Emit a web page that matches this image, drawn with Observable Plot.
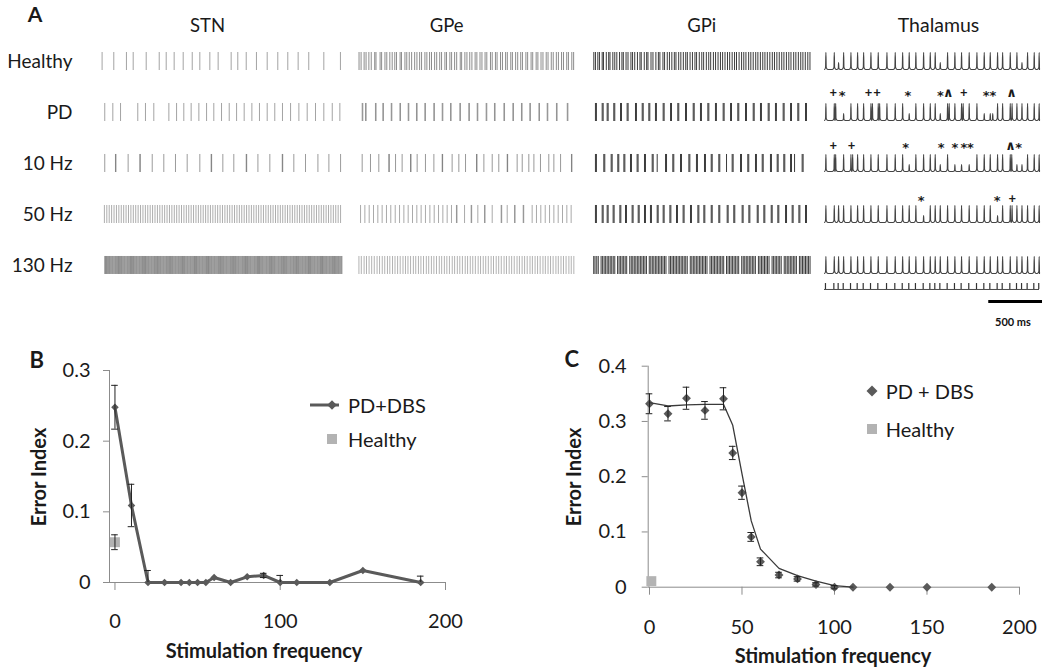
<!DOCTYPE html>
<html><head><meta charset="utf-8">
<script src="https://cdn.jsdelivr.net/npm/d3@7"></script>
<script src="https://cdn.jsdelivr.net/npm/@observablehq/plot@0.6"></script>
<style>
body{margin:0;background:#fff;}
#fig{position:relative;width:1050px;height:668px;overflow:hidden;font-family:Lato,"Open Sans",sans-serif;color:#1a1a1a;}
</style></head><body><div id="fig"></div>
<script>
// ---------------- Panel A: spike rasters (times in ms, 2 s window) ----------------
const rowNames = ["Healthy", "PD", "10 Hz", "50 Hz", "130 Hz"];

const stnHealthy = [5,102,207,263,371,479,537,603,678,753,816,899,968,1076,1131,1201,1286,1375,1463,1546,1632,1720,1845,1983];
const stnPD = [27,94,158,301,365,434,559,623,683,744,808,872,932,996,1060,1121,1184,1248,1311,1375,1438,1502,1569,1638,1707,1776,1845,1915,1978];
const stn10 = [27,116,120,221,318,322,421,517,614,711,816,910,914,1007,1098,1201,1205,1298,1397,1500,1504,1596,1693,1796,1887,1984];
const stn50 = [24,44,64,84,104,124,144,164,184,204,224,244,264,284,304,324,344,364,384,404,424,444,464,484,504,524,544,564,584,604,624,644,664,684,704,724,744,764,784,804,824,844,864,884,904,924,944,964,984,1004,1024,1044,1064,1084,1104,1124,1144,1164,1184,1204,1224,1244,1264,1284,1304,1324,1344,1364,1384,1404,1424,1444,1464,1484,1504,1524,1544,1564,1584,1604,1624,1644,1664,1684,1704,1724,1744,1764,1784,1804,1824,1844,1864,1884,1904,1924,1944,1964,1984];
const stn130 = [27,34,41,49,57,65,72,80,88,95,
103,111,118,126,134,141,149,157,165,172,180,188,195,
203,211,218,226,234,241,249,257,265,272,280,288,295,
303,311,318,326,334,341,349,357,365,372,380,388,395,
403,411,418,426,434,441,449,457,465,472,480,488,495,
503,511,518,526,534,541,549,557,565,572,580,588,595,
603,611,618,626,634,641,649,657,665,672,680,688,695,
703,711,718,726,734,741,749,757,765,772,780,788,795,
803,811,818,826,834,841,849,857,865,872,880,888,895,
903,911,918,926,934,941,949,957,965,972,980,988,995,
1003,1011,1018,1026,1034,1041,1049,1057,1065,1072,1080,1088,1095,
1103,1111,1118,1126,1134,1141,1149,1157,1165,1172,1180,1188,1195,
1203,1211,1218,1226,1234,1241,1249,1257,1265,1272,1280,1288,1295,
1303,1311,1318,1326,1334,1341,1349,1357,1365,1372,1380,1388,1395,
1403,1411,1418,1426,1434,1441,1449,1457,1465,1472,1480,1488,1495,
1503,1511,1518,1526,1534,1541,1549,1557,1565,1572,1580,1588,1595,
1603,1611,1618,1626,1634,1641,1649,1657,1665,1672,1680,1688,1695,
1703,1711,1718,1726,1734,1741,1749,1757,1765,1772,1780,1788,1795,
1803,1811,1818,1826,1834,1841,1849,1857,1865,1872,1880,1888,1895,
1903,1911,1918,1926,1934,1941,1949,1957,1965,1972,1980,1988,1995];

const gpeHealthy = [5,24,52,70,96,118,150,162,200,214,245,262,290,312,336,352,385,398,430,447,470,492,520,541,566,584,615,633,658,676,705,724,752,769,800,815,846,862,890,909,942,955,985,1004,1030,1050,1080,1096,1125,1143,1172,1188,1222,1238,1268,1283,1315,1333,1362,1378,1410,1425,1455,1474,1502,1518,1550,1566,1598,1613,1645,1661,1690,1708,1738,1755,1785,1803,1832,1851,1880,1898,1928,1944,1975,1992];
const gpePD = [34,40,65,71,157,163,225,231,303,309,383,389,460,466,537,543,614,620,697,703,775,781,852,858,938,944,1021,1027,1099,1105,1182,1188,1259,1265,1346,1352,1429,1435,1509,1515,1586,1592,1670,1676,1747,1753,1833,1839,1933,1939];
const gpe10 = [34,111,188,281,285,343,404,482,486,543,620,698,775,779,867,929,991,1093,1097,1161,1238,1299,1377,1381,1469,1516,1577,1624,1685,1762,1809,1871,1972,1976];
const gpe50 = [19,59,99,139,179,219,259,299,340,380,420,460,500,540,580,620,661,701,741,781,821,861,907,912,982,1043,1048,1105,1167,1172,1238,1321,1326,1377,1445,1450,1525,1530,1608,1648,1688,1729,1769,1809,1849,1889,1929,1969];
const gpe130 = [4,26,52,74,98,122,146,172,195,220,243,268,290,315,338,362,386,412,435,458,482,508,530,555,578,602,628,650,675,698,722,748,770,795,818,842,868,890,915,938,962,988,1010,1035,1058,1082,1108,1130,1155,1178,1202,1228,1250,1275,1298,1322,1348,1370,1395,1418,1442,1468,1490,1515,1538,1562,1588,1610,1635,1658,1682,1708,1730,1755,1778,1802,1828,1850,1875,1898,1922,1948,1970,1994];

const gpiHealthy = [3,18,40,55,80,92,118,140,152,178,196,215,240,262,275,300,318,345,360,380,405,428,440,468,490,502,530,548,575,598,612,640,655,680,700,722,745,760,785,805,828,850,865,890,912,935,950,975,998,1015,1040,1062,1080,1105,1125,1148,1170,1190,1212,1235,1255,1278,1300,1318,1342,1365,1385,1405,1430,1450,1472,1495,1515,1538,1560,1580,1602,1625,1648,1668,1690,1712,1735,1755,1778,1800,1820,1845,1865,1888,1910,1930,1952,1975,1995];
const gpiPD = [18,27,80,89,126,135,187,196,249,258,310,319,387,396,449,458,510,519,571,580,642,651,710,719,777,786,848,857,919,928,986,995,1054,1063,1124,1133,1195,1204,1263,1272,1330,1339,1401,1410,1472,1481,1539,1548,1610,1619,1677,1686,1748,1757,1816,1825,1883,1892,1954,1963];
const gpi10 = [18,27,95,104,163,172,224,233,280,289,341,350,402,411,470,479,541,550,587,664,673,731,740,802,811,879,888,949,958,1023,1032,1085,1094,1155,1164,1226,1278,1287,1355,1364,1422,1431,1493,1502,1555,1564,1631,1640,1693,1702,1754,1763,1816,1825,1853,1923,1932];
const gpi50 = [18,27,80,89,126,135,181,190,243,252,295,304,356,365,412,421,470,479,525,534,587,596,642,651,704,713,765,774,826,835,894,903,962,971,1017,1026,1085,1094,1155,1164,1232,1241,1293,1302,1370,1379,1432,1441,1509,1518,1570,1579,1638,1647,1699,1708,1770,1779,1831,1840,1893,1902,1954,1963];
const gpi130 = [2,14,30,44,70,84,98,112,126,140,154,168,182,196,222,236,250,264,278,292,306,334,348,362,376,390,404,418,432,446,460,474,488,514,528,542,556,570,584,598,612,626,640,654,668,696,710,724,738,752,766,780,794,808,822,836,850,864,892,906,920,934,948,962,976,990,1004,1018,1032,1046,1074,1088,1102,1116,1130,1144,1158,1172,1186,1200,1226,1240,1254,1268,1282,1296,1310,1324,1338,1366,1380,1394,1408,1422,1436,1450,1464,1478,1492,1520,1534,1548,1562,1576,1590,1604,1618,1646,1660,1674,1688,1702,1716,1730,1758,1772,1786,1800,1814,1828,1842,1856,1870,1898,1912,1926,1940,1954,1968,1982,1996];

// Thalamus: spike times, subthreshold bumps, and sensorimotor input train (ms)
const smInput = [9,87,127,174,242,304,360,428,496,577,654,723,784,846,918,980,1026,1073,1141,1209,1271,1342,1414,1482,1538,1606,1653,1724,1786,1833,1885,1947,1993];
const thalHealthySpikes = [13,91,178,246,308,364,432,500,581,658,727,788,850,922,984,1030,1145,1213,1275,1346,1418,1486,1542,1610,1657,1728,1790,1889,1951,1997];
const thalHealthyBumps = [131,1077,1837];
const thalPDSpikes = [13,91,104,246,308,364,432,446,500,513,581,658,727,850,922,984,1030,1145,1160,1213,1275,1290,1346,1418,1610,1657,1728,1745,1790,1837,1889,1951,1997];
const thalPDBumps = [178,788,1077,1486,1542,1565];
const thal10Spikes = [13,91,104,178,246,262,308,364,432,500,581,658,727,850,922,984,1030,1145,1418,1486,1542,1610,1657,1728,1742,1889,1951,1997];
const thal10Bumps = [788,1077,1213,1275,1346,1790,1837];
const thal50Spikes = [13,91,131,178,246,308,364,432,500,581,658,727,788,850,984,1030,1077,1145,1213,1275,1346,1418,1486,1542,1657,1728,1745,1790,1837,1889,1951,1997];
const thal50Bumps = [922,1610];
const thal130Spikes = [13,91,131,178,246,308,364,432,500,581,658,727,788,850,922,984,1030,1077,1145,1213,1275,1346,1418,1486,1542,1610,1657,1728,1790,1837,1889,1951,1997];
const thal130Bumps = [];

// Error markers above thalamic traces
const pdMarkTimes = [81,165,409,488,775,1079,1151,1296,1504,1566,1740];
const pdMarkSymbols = ["+","*","+","+","*","*","^","+","*","*","^"];
const hz10MarkTimes = [81,251,756,1086,1212,1296,1358,1730,1807];
const hz10MarkSymbols = ["+","+","*","*","*","*","*","^","*"];
const hz50MarkTimes = [900,1607,1746];
const hz50MarkSymbols = ["*","*","+"];

const scaleBarMs = 500;
const scaleBarStart = 1528;

// ---------------- Panel B / C data ----------------
const freqB = [0,10,20,30,40,45,50,55,60,70,80,90,100,110,130,150,185];
const errIdxB = [0.248,0.109,0,0,0,0,0,0,0.007,0,0.008,0.010,0,0,0,0.017,0];
const errBarB = [0.031,0.030,0.017,0,0,0,0,0,0,0,0,0.003,0.010,0,0,0,0.009];
const healthyB = {freq: 0, value: 0.057, err: 0.0105};

const freqC = [0,10,20,30,40,45,50,55,60,70,80,90,100,110,130,150,185];
const errIdxC = [0.332,0.314,0.342,0.320,0.341,0.243,0.171,0.091,0.046,0.022,0.015,0.005,0,0,0,0,0];
const errBarC = [0.018,0.013,0.020,0.016,0.020,0.012,0.012,0.008,0.007,0.005,0.004,0.003,0.003,0,0,0,0];
const fitFreqC = [0,10,20,30,40,45,50,55,60,70,80,90,100,110];
const fitValC = [0.334,0.328,0.330,0.331,0.331,0.293,0.205,0.120,0.069,0.034,0.021,0.011,0.003,0];
const healthyC = {freq: 1, value: 0.011, err: 0};

// ---------------- helpers ----------------
const fig = document.getElementById("fig");
function place(node, left, top) {
  node.style.position = "absolute";
  node.style.left = left + "px";
  node.style.top = top + "px";
  fig.appendChild(node);
}
function label(text, x, y, css, anchor) {
  const d = document.createElement("div");
  d.textContent = text;
  const tr = anchor === "start" ? "translate(0,-50%)" : "translate(-50%,-50%)";
  d.style.cssText = `position:absolute;left:${x}px;top:${y}px;transform:${tr};white-space:nowrap;line-height:1;${css || ""}`;
  fig.appendChild(d);
  return d;
}
const baseStyle = {background: "transparent", fontFamily: "Lato, 'Open Sans', sans-serif", color: "#1a1a1a", overflow: "visible"};

// ---------------- Panel A rasters ----------------
const rasterCols = [
  {trains: [stnHealthy, stnPD, stn10, stn50, stn130], x0: 101, x1: 342, color: "#4a4a4a", opacity: [0.5, 0.5, 0.55, 0.45, 0.6], labels: true},
  {trains: [gpeHealthy, gpePD, gpe10, gpe50, gpe130], x0: 358, x1: 574, color: "#555555", opacity: [0.68, 0.55, 0.6, 0.5, 0.45], labels: false},
  {trains: [gpiHealthy, gpiPD, gpi10, gpi50, gpi130], x0: 593, x1: 810, color: "#1a1a1a", opacity: [0.85, 0.85, 0.85, 0.85, 0.85], labels: false}
];
for (const col of rasterCols) {
  const left = col.labels ? 0 : col.x0 - 5;
  const marks = rowNames.map((r, i) =>
    Plot.ruleX(col.trains[i].map(t => ({t, row: r})), {x: "t", fy: "row", stroke: col.color, strokeOpacity: col.opacity[i], strokeWidth: 1}));
  const p = Plot.plot({
    width: col.x1 + 5 - left, height: 284,
    marginTop: 52, marginBottom: 10, marginLeft: col.x0 - left, marginRight: 5,
    style: {...baseStyle, fontSize: "19px"},
    x: {domain: [0, 2000], axis: null},
    fy: {domain: rowNames, paddingInner: 0.647, paddingOuter: 0, round: false,
         axis: col.labels ? "left" : null, tickSize: 0, tickPadding: col.x0 - left - 72, label: null},
    marks
  });
  place(p, left, 0);
}

// ---------------- Panel A thalamus ----------------
const thalRows = [
  [thalHealthySpikes, thalHealthyBumps],
  [thalPDSpikes, thalPDBumps],
  [thal10Spikes, thal10Bumps],
  [thal50Spikes, thal50Bumps],
  [thal130Spikes, thal130Bumps]
];
const bumpHeight = 0.4;
function buildTrace(row, spikes, bumps) {
  const ev = spikes.map(t => ({t, h: 1})).concat(bumps.map(t => ({t, h: bumpHeight}))).sort((a, b) => a.t - b.t);
  const pts = [{row, t: 0, v: 0}];
  ev.forEach((e, i) => {
    const prev = i > 0 ? ev[i - 1].t : -Infinity;
    const next = i < ev.length - 1 ? ev[i + 1].t : Infinity;
    const pre = Math.max(e.t - 18, (prev + e.t) / 2 + 0.5, 0.5);
    const post = Math.min(e.t + 18, (e.t + next) / 2 - 0.5, 2000);
    pts.push({row, t: pre, v: 0});
    if (e.t - 3 > pre) pts.push({row, t: e.t - 3, v: 0.12 * e.h});
    pts.push({row, t: e.t, v: e.h});
    if (e.t + 3 < post) pts.push({row, t: e.t + 3, v: 0.12 * e.h});
    if (post > e.t) pts.push({row, t: post, v: 0});
  });
  if (pts[pts.length - 1].t < 2000) pts.push({row, t: 2000, v: 0});
  return pts;
}
const traceData = thalRows.flatMap(([s, b], i) => buildTrace(rowNames[i], s, b));
const smData = smInput.map(t => ({t, row: "130 Hz"}));
const markData = [
  ...pdMarkTimes.map((t, i) => ({t, s: pdMarkSymbols[i], row: "PD"})),
  ...hz10MarkTimes.map((t, i) => ({t, s: hz10MarkSymbols[i], row: "10 Hz"})),
  ...hz50MarkTimes.map((t, i) => ({t, s: hz50MarkSymbols[i], row: "50 Hz"}))
];
const markY = {"PD": 1.6, "10 Hz": 1.53, "50 Hz": 1.42};
const symShift = {"+": 0, "*": -0.12, "^": 0};
const glyph = {"+": "+", "*": "*", "^": "\u2227"};
const smBaseY = -0.94, smTopY = -0.59;
const thalPlot = Plot.plot({
  width: 225, height: 300, marginTop: 52, marginBottom: 10, marginLeft: 5, marginRight: 5,
  style: {...baseStyle, fontSize: "14px"},
  x: {domain: [0, 2000], axis: null},
  y: {domain: [-1, 1], axis: null},
  fy: {domain: rowNames, paddingInner: 1 / 3, paddingOuter: 0, round: false, axis: null},
  marks: [
    Plot.line(traceData, {x: "t", y: "v", fy: "row", z: "row", curve: "monotone-x", stroke: "#444", strokeWidth: 1.15}),
    Plot.ruleY(["130 Hz"], {fy: d => d, y: smBaseY, x1: 0, x2: 2000, stroke: "#4a4a4a", strokeWidth: 1}),
    Plot.ruleX(smData, {x: "t", fy: "row", y1: smBaseY, y2: smTopY, stroke: "#333", strokeWidth: 1.2}),
    Plot.text(markData.filter(d => d.s === "+"), {x: "t", y: d => markY[d.row] + symShift[d.s], text: d => glyph[d.s], fy: "row", fill: "#1a1a1a",
      fontSize: 13, fontFamily: "Lato", fontWeight: "bold", lineAnchor: "middle"}),
    Plot.text(markData.filter(d => d.s !== "+"), {x: "t", y: d => markY[d.row] + symShift[d.s], text: d => glyph[d.s], fy: "row", fill: "#1a1a1a",
      fontSize: 13, fontFamily: "DejaVu Sans", fontWeight: "bold", lineAnchor: "middle"})
  ]
});
place(thalPlot, 819, 0);

const barPlot = Plot.plot({
  width: 225, height: 45, marginTop: 0, marginBottom: 0, marginLeft: 5, marginRight: 5,
  style: {...baseStyle, fontSize: "11px"},
  x: {domain: [0, 2000], axis: null},
  y: {domain: [0, 1], range: [11, 32], axis: null},
  marks: [
    Plot.ruleY([0], {x1: scaleBarStart, x2: scaleBarStart + scaleBarMs, stroke: "#000", strokeWidth: 3}),
    Plot.text([`${scaleBarMs} ms`], {x: scaleBarStart + scaleBarMs / 2 - 25, y: 1, fontWeight: "bold", fill: "#111", lineAnchor: "middle"})
  ]
});
place(barPlot, 819, 290);

// Panel A titles
label("A", 35, 13, "font-weight:bold;font-size:21px;");
label("STN", 207.5, 25, "font-size:18.5px;");
label("GPe", 446.7, 25, "font-size:18.5px;");
label("GPi", 701.7, 25, "font-size:18.5px;");
label("Thalamus", 938.5, 25, "font-size:19.5px;");

// ---------------- Panel B ----------------
const bData = freqB.map((f, i) => ({f, v: errIdxB[i], e: errBarB[i]}));
const bErr = bData.filter(d => d.e > 0).concat([{f: healthyB.freq, v: healthyB.value, e: healthyB.err}]);
const capB = 2.0;
const plotB = Plot.plot({
  width: 520, height: 328, marginLeft: 109, marginRight: 75, marginTop: 30, marginBottom: 86,
  style: {...baseStyle, fontSize: "20px"},
  x: {domain: [-3.3, 200]},
  y: {domain: [0, 0.3]},
  marks: [
    Plot.ruleY([0], {stroke: "#8c8c8c"}),
    Plot.ruleX([-3.3], {stroke: "#8c8c8c"}),
    Plot.axisX({ticks: [0, 100, 200], tickSize: 8, tickPadding: 23, stroke: "#8c8c8c", fill: "#1a1a1a", label: null}),
    Plot.axisY({ticks: [0, 0.1, 0.2, 0.3], tickSize: 6, tickPadding: 13, stroke: "#8c8c8c", fill: "#1a1a1a", label: null, tickFormat: d => d === 0 ? "0" : d.toFixed(1)}),
    Plot.line(bData, {x: "f", y: "v", stroke: "#5a5a5a", strokeWidth: 3}),
    Plot.dot(bData, {x: "f", y: "v", symbol: "diamond2", r: 3.4, fill: "#5a5a5a", stroke: null}),
    Plot.dot([healthyB], {x: "freq", y: "value", symbol: "square", r: 5.6, fill: "#b3b3b3", stroke: null}),
    Plot.ruleX(bErr, {x: "f", y1: d => d.v - d.e, y2: d => d.v + d.e, stroke: "#222", strokeWidth: 1, clip: true}),
    Plot.ruleY(bErr, {y: d => d.v + d.e, x1: d => d.f - capB, x2: d => d.f + capB, stroke: "#222", strokeWidth: 1, clip: true}),
    Plot.ruleY(bErr, {y: d => d.v - d.e, x1: d => d.f - capB, x2: d => d.f + capB, stroke: "#222", strokeWidth: 1, clip: true})
  ]
});
place(plotB, 0, 340);

// ---------------- Panel C ----------------
const cData = freqC.map((f, i) => ({f, v: errIdxC[i], e: errBarC[i]}));
const cErr = cData.filter(d => d.e > 0);
const cFit = fitFreqC.map((f, i) => ({f, v: fitValC[i]}));
const capC = 1.8;
const plotC = Plot.plot({
  width: 530, height: 328, marginLeft: 127.7, marginRight: 31, marginTop: 25.7, marginBottom: 81.3,
  style: {...baseStyle, fontSize: "20px"},
  x: {domain: [-0.7, 200]},
  y: {domain: [0, 0.4]},
  marks: [
    Plot.ruleY([0], {stroke: "#8c8c8c"}),
    Plot.ruleX([-0.7], {stroke: "#8c8c8c"}),
    Plot.axisX({ticks: [0, 50, 100, 150, 200], tickSize: 8, tickPadding: 25, stroke: "#8c8c8c", fill: "#1a1a1a", label: null}),
    Plot.axisY({ticks: [0, 0.1, 0.2, 0.3, 0.4], tickSize: 6, tickPadding: 15.7, stroke: "#8c8c8c", fill: "#1a1a1a", label: null, tickFormat: d => d === 0 ? "0" : d.toFixed(1)}),
    Plot.dot(cData, {x: "f", y: "v", symbol: "diamond2", r: 4, fill: "#5a5a5a", stroke: null}),
    Plot.dot([healthyC], {x: "freq", y: "value", symbol: "square", r: 5.6, fill: "#b3b3b3", stroke: null}),
    Plot.line(cFit, {x: "f", y: "v", stroke: "#3a3a3a", strokeWidth: 1.3}),
    Plot.ruleX(cErr, {x: "f", y1: d => d.v - d.e, y2: d => d.v + d.e, stroke: "#222", strokeWidth: 1}),
    Plot.ruleY(cErr, {y: d => d.v + d.e, x1: d => d.f - capC, x2: d => d.f + capC, stroke: "#222", strokeWidth: 1}),
    Plot.ruleY(cErr, {y: d => d.v - d.e, x1: d => d.f - capC, x2: d => d.f + capC, stroke: "#222", strokeWidth: 1})
  ]
});
place(plotC, 520, 340);

// Panel letters and axis titles
label("B", 36.7, 360, "font-weight:bold;font-size:22px;");
label("C", 571.7, 359, "font-weight:bold;font-size:22px;");
label("Stimulation frequency", 264, 650, "font-weight:bold;font-size:20px;");
label("Stimulation frequency", 833, 655, "font-weight:bold;font-size:20px;");
const eb = label("Error Index", 38.3, 476.7, "font-weight:bold;font-size:20px;");
eb.style.transform = "translate(-50%,-50%) rotate(-90deg)";
const ec = label("Error Index", 573.3, 476.7, "font-weight:bold;font-size:20px;");
ec.style.transform = "translate(-50%,-50%) rotate(-90deg)";

// Legends
function swatch(svgInner, cx, cy) {
  const ns = "http://www.w3.org/2000/svg";
  const s = document.createElementNS(ns, "svg");
  s.setAttribute("width", 40); s.setAttribute("height", 20);
  s.style.cssText = `position:absolute;left:${cx - 20}px;top:${cy - 10}px;overflow:visible;`;
  s.innerHTML = svgInner;
  fig.appendChild(s);
}
swatch('<line x1="-2" x2="27" y1="10" y2="10" stroke="#5a5a5a" stroke-width="3"/><path d="M20,5.2L24.8,10L20,14.8L15.2,10Z" fill="#5a5a5a"/>', 332, 405);
label("PD+DBS", 348, 405, "font-size:20px;", "start");
swatch('<rect x="15" y="5" width="10" height="10" fill="#b3b3b3"/>', 332, 439);
label("Healthy", 348, 439, "font-size:20px;", "start");

swatch('<path d="M20,4.5L25.5,10L20,15.5L14.5,10Z" fill="#5a5a5a"/>', 871.7, 391);
label("PD + DBS", 885.7, 391, "font-size:20px;", "start");
swatch('<rect x="15" y="5" width="10" height="10" fill="#b3b3b3"/>', 871.7, 429);
label("Healthy", 885.7, 429, "font-size:20px;", "start");
</script></body></html>
